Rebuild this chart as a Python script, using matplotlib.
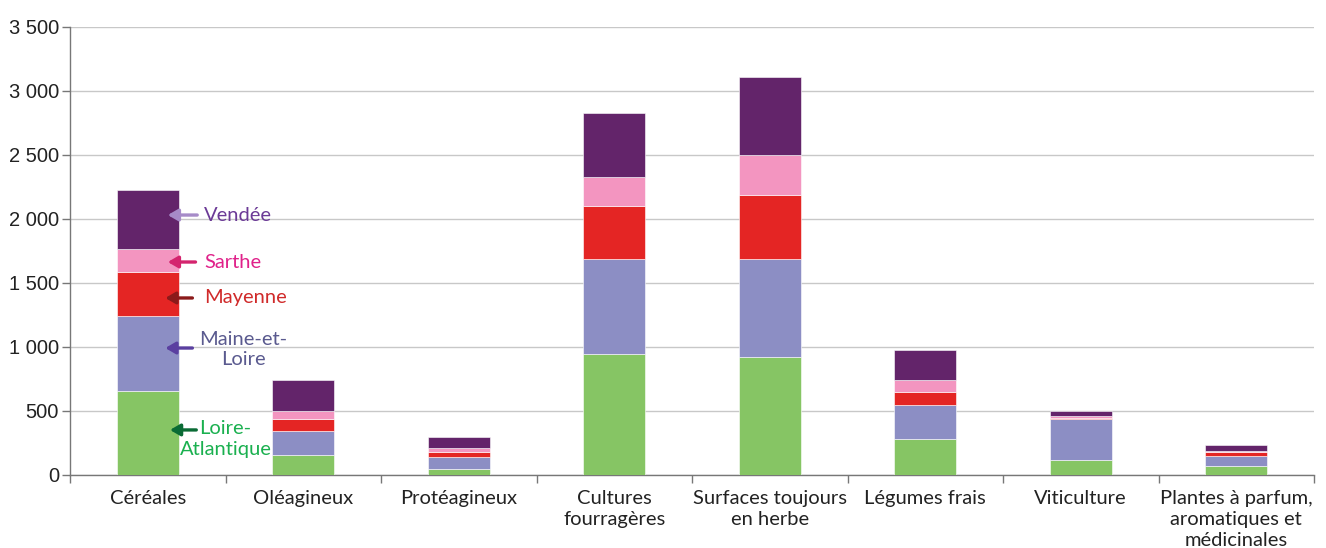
import matplotlib
matplotlib.use("Agg")
import matplotlib.pyplot as plt
import numpy as np

categories = ["Céréales", "Oléagineux", "Protéagineux", "Cultures\nfourragères",
              "Surfaces toujours\nen herbe", "Légumes frais", "Viticulture",
              "Plantes à parfum,\naromatiques et\nmédicinales"]
series_names = ["Loire-Atlantique", "Maine-et-Loire", "Mayenne", "Sarthe", "Vendée"]
loire_atlantique = [658, 156, 47, 948, 922, 281, 117, 70]
maine_et_loire = [585, 187, 91, 740, 766, 268, 322, 81]
mayenne = [341, 92, 41, 416, 500, 96, 5, 26]
sarthe = [185, 64, 34, 227, 315, 94, 19, 10]
vendee = [455, 242, 86, 495, 604, 236, 39, 45]
y_ticks = [0, 500, 1000, 1500, 2000, 2500, 3000, 3500]
y_tick_labels = ["0", "500", "1 000", "1 500", "2 000", "2 500", "3 000", "3 500"]

colors = ["#86c564", "#8c8ec4", "#e42524", "#f395c0", "#63246a"]
text_colors = ["#1ab04f", "#5a5a8f", "#d02a2a", "#e0218a", "#6b3a96"]
arrow_colors = ["#0a6b35", "#5a3fa0", "#8b1a1a", "#d4246e", "#a68bc8"]

fig = plt.figure(figsize=(13.26, 5.48), dpi=100)
ax = fig.add_axes([70/1326, 73/548, (1314-70)/1326, (475-27)/548])

x = np.arange(len(categories))
bottom = np.zeros(len(categories))
for vals, c in zip([loire_atlantique, maine_et_loire, mayenne, sarthe, vendee], colors):
    ax.bar(x, vals, width=0.4, bottom=bottom, color=c, edgecolor="white", linewidth=0.4, zorder=3)
    bottom += np.array(vals)

ax.set_xlim(-0.5, len(categories) - 0.5)
ax.set_ylim(0, 3500)
ax.set_yticks(y_ticks)
ax.set_yticklabels(y_tick_labels, fontsize=14.5, family="Liberation Sans", color="#222222")
ax.yaxis.grid(True, color="#c8c8c8", linewidth=1.0, zorder=0)
ax.set_axisbelow(True)

ax.set_xticks(x)
ax.set_xticklabels(categories, fontsize=14.5, family="Lato", color="#222222", linespacing=1.28)
ax.tick_params(axis="x", which="major", length=0, pad=11)
ax.set_xticks(np.arange(len(categories) + 1) - 0.5, minor=True)
ax.tick_params(axis="x", which="minor", length=6, color="#777777", width=1)
ax.tick_params(axis="y", length=6, color="#777777", width=1, pad=2)

for s in ["top", "right"]:
    ax.spines[s].set_visible(False)
for s in ["left", "bottom"]:
    ax.spines[s].set_color("#777777")
    ax.spines[s].set_linewidth(1)

# annotations (labels for Céréales bar)
ann = [
    ("Loire-\nAtlantique", 352, 0.50, 281, "center", 0.125, 0.33),
    ("Maine-et-\nLoire", 992, 0.615, 977, "center", 0.095, 0.305),
    ("Mayenne", 1383, 0.362, 1383, "left", 0.095, 0.305),
    ("Sarthe", 1664, 0.362, 1664, "left", 0.111, 0.325),
    ("Vendée", 2031, 0.362, 2031, "left", 0.111, 0.336),
]
for (label, ya, xt, yt, ha, xh, xtail), tc, acol in zip(ann, text_colors, arrow_colors):
    ax.annotate("", xy=(xh, ya), xytext=(xtail, ya),
                arrowprops=dict(arrowstyle="-|>,head_length=0.6,head_width=0.35", color=acol, lw=2.4),
                zorder=5)
    ax.text(xt, yt, label, color=tc, fontsize=14.5, family="Lato", ha=ha, va="center",
            linespacing=1.22, zorder=5)

fig.savefig("out.png", dpi=100)
